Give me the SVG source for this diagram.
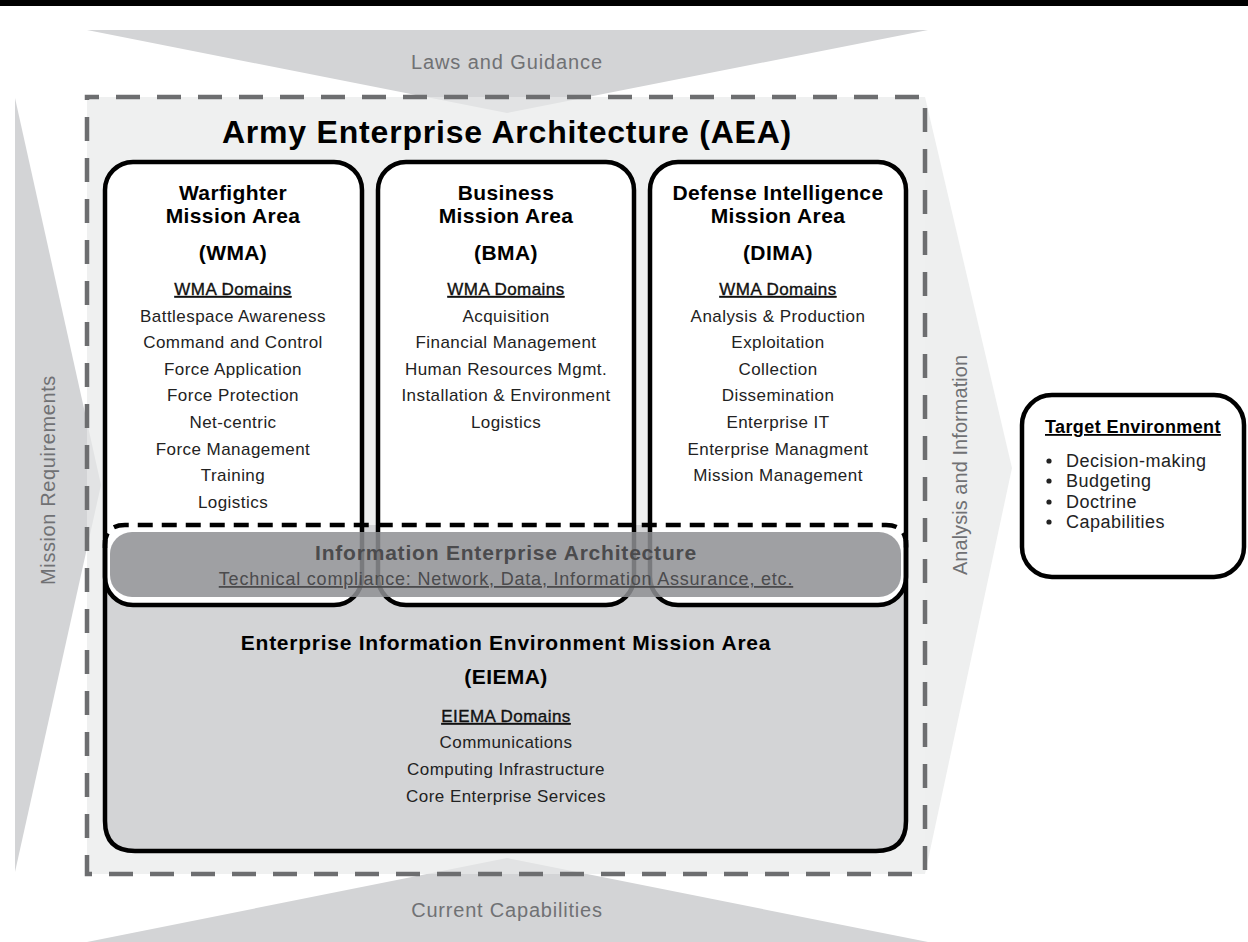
<svg xmlns="http://www.w3.org/2000/svg" width="1248" height="942" viewBox="0 0 1248 942">
<style>
text{font-family:"Liberation Sans",Arial,sans-serif}
.lbl{font-size:20px;fill:#707174;text-anchor:middle}
.ttl{font-size:21px;font-weight:bold;fill:#000;text-anchor:middle;letter-spacing:.4px}
.dom{font-size:17px;fill:#111;stroke:#111;stroke-width:.35;text-anchor:middle;text-decoration:underline;letter-spacing:.45px}
.itm{font-size:17px;fill:#222;text-anchor:middle;letter-spacing:.45px}
.box{fill:#fff;stroke:#000;stroke-width:4.5}
.tri{fill:#d3d4d6}
</style>
<rect x="0" y="0" width="1248" height="942" fill="#fff"/>
<rect x="0" y="0" width="1248" height="6" fill="#000"/>
<g id="backdrop">
<polygon class="tri" points="87,30 928,30 507,113"/>
<polygon class="tri" points="87,942 928,942 507,858"/>
<polygon class="tri" points="15,98 101,485 15,872"/>
<polygon points="925,97 1012,468 925,874" fill="#eeefef"/>
</g>
<g id="aea">
<rect x="87" y="97" width="838" height="777" fill="#e8e9e9" fill-opacity=".7"/>
<rect x="87" y="97" width="838" height="777" fill="none" stroke="#6d6e70" stroke-width="4.5" stroke-dasharray="24 17" stroke-dashoffset="12"/>
<text x="507" y="143" font-size="32" font-weight="bold" text-anchor="middle" letter-spacing=".8">Army Enterprise Architecture (AEA)</text>
</g>
<g id="eiema">
<path d="M105,525 L906,525 L906,821 Q906,851 876,851 L135,851 Q105,851 105,821 Z" fill="#d3d4d6"/>
</g>
<g id="wma">
<rect class="box" x="105" y="162" width="257" height="443" rx="28"/>
<text class="ttl" x="233" y="200">Warfighter</text>
<text class="ttl" x="233" y="223">Mission Area</text>
<text class="ttl" x="233" y="260">(WMA)</text>
<text class="dom" x="233" y="295">WMA Domains</text>
<text class="itm" x="233" y="322">Battlespace Awareness</text>
<text class="itm" x="233" y="348">Command and Control</text>
<text class="itm" x="233" y="375">Force Application</text>
<text class="itm" x="233" y="401">Force Protection</text>
<text class="itm" x="233" y="428">Net-centric</text>
<text class="itm" x="233" y="455">Force Management</text>
<text class="itm" x="233" y="481">Training</text>
<text class="itm" x="233" y="508">Logistics</text>
</g>
<g id="bma">
<rect class="box" x="378" y="162" width="256" height="443" rx="28"/>
<text class="ttl" x="506" y="200">Business</text>
<text class="ttl" x="506" y="223">Mission Area</text>
<text class="ttl" x="506" y="260">(BMA)</text>
<text class="dom" x="506" y="295">WMA Domains</text>
<text class="itm" x="506" y="322">Acquisition</text>
<text class="itm" x="506" y="348">Financial Management</text>
<text class="itm" x="506" y="375">Human Resources Mgmt.</text>
<text class="itm" x="506" y="401">Installation &amp; Environment</text>
<text class="itm" x="506" y="428">Logistics</text>
</g>
<g id="dima">
<rect class="box" x="650" y="162" width="256" height="443" rx="28"/>
<text class="ttl" x="778" y="200">Defense Intelligence</text>
<text class="ttl" x="778" y="223">Mission Area</text>
<text class="ttl" x="778" y="260">(DIMA)</text>
<text class="dom" x="778" y="295">WMA Domains</text>
<text class="itm" x="778" y="322">Analysis &amp; Production</text>
<text class="itm" x="778" y="348">Exploitation</text>
<text class="itm" x="778" y="375">Collection</text>
<text class="itm" x="778" y="401">Dissemination</text>
<text class="itm" x="778" y="428">Enterprise IT</text>
<text class="itm" x="778" y="455">Enterprise Managment</text>
<text class="itm" x="778" y="481">Mission Management</text>
</g>
<g id="eiema-frame">
<path d="M105,540 L105,821 Q105,851 135,851 L876,851 Q906,851 906,821 L906,540" fill="none" stroke="#000" stroke-width="4.5"/>
<text x="506" y="650" font-size="21" font-weight="bold" text-anchor="middle" letter-spacing=".75">Enterprise Information Environment Mission Area</text>
<text class="ttl" x="506" y="684">(EIEMA)</text>
<text class="dom" x="506" y="722">EIEMA Domains</text>
<text class="itm" x="506" y="748">Communications</text>
<text class="itm" x="506" y="775">Computing Infrastructure</text>
<text class="itm" x="506" y="802">Core Enterprise Services</text>
</g>
<g id="iea">
<rect x="110" y="532" width="791" height="65" rx="22" fill="#8e8f93" fill-opacity=".85"/>
<path d="M105,548 L105,545 Q105,525 125,525 L886,525 Q906,525 906,545 L906,548" fill="none" stroke="#000" stroke-width="4.5" stroke-dasharray="15 9"/>
<text x="506" y="560" font-size="21" font-weight="bold" fill="#4b4b4d" text-anchor="middle" letter-spacing=".8">Information Enterprise Architecture</text>
<text x="506" y="585" font-size="18" fill="#4b4b4d" text-anchor="middle" letter-spacing=".8" text-decoration="underline">Technical compliance: Network, Data, Information Assurance, etc.</text>
</g>
<g id="labels">
<text class="lbl" x="507" y="69" letter-spacing=".9">Laws and Guidance</text>
<text class="lbl" x="507" y="917" letter-spacing=".8">Current Capabilities</text>
<text class="lbl" transform="translate(55,480) rotate(-90)" letter-spacing=".6">Mission Requirements</text>
<text class="lbl" transform="translate(967,465) rotate(-90)" letter-spacing=".05">Analysis and Information</text>
</g>
<g id="target">
<rect x="1022" y="395" width="222" height="182" rx="30" fill="#fff" stroke="#000" stroke-width="4.5"/>
<text x="1045" y="433" font-size="18" font-weight="bold" letter-spacing=".4" text-decoration="underline">Target Environment</text>
<g font-size="18" fill="#222" letter-spacing=".5">
<circle cx="1049" cy="461" r="2.6" fill="#222"/>
<text x="1066" y="467">Decision-making</text>
<circle cx="1049" cy="481" r="2.6" fill="#222"/>
<text x="1066" y="487">Budgeting</text>
<circle cx="1049" cy="502" r="2.6" fill="#222"/>
<text x="1066" y="508">Doctrine</text>
<circle cx="1049" cy="522" r="2.6" fill="#222"/>
<text x="1066" y="528">Capabilities</text>
</g>
</g>
</svg>
